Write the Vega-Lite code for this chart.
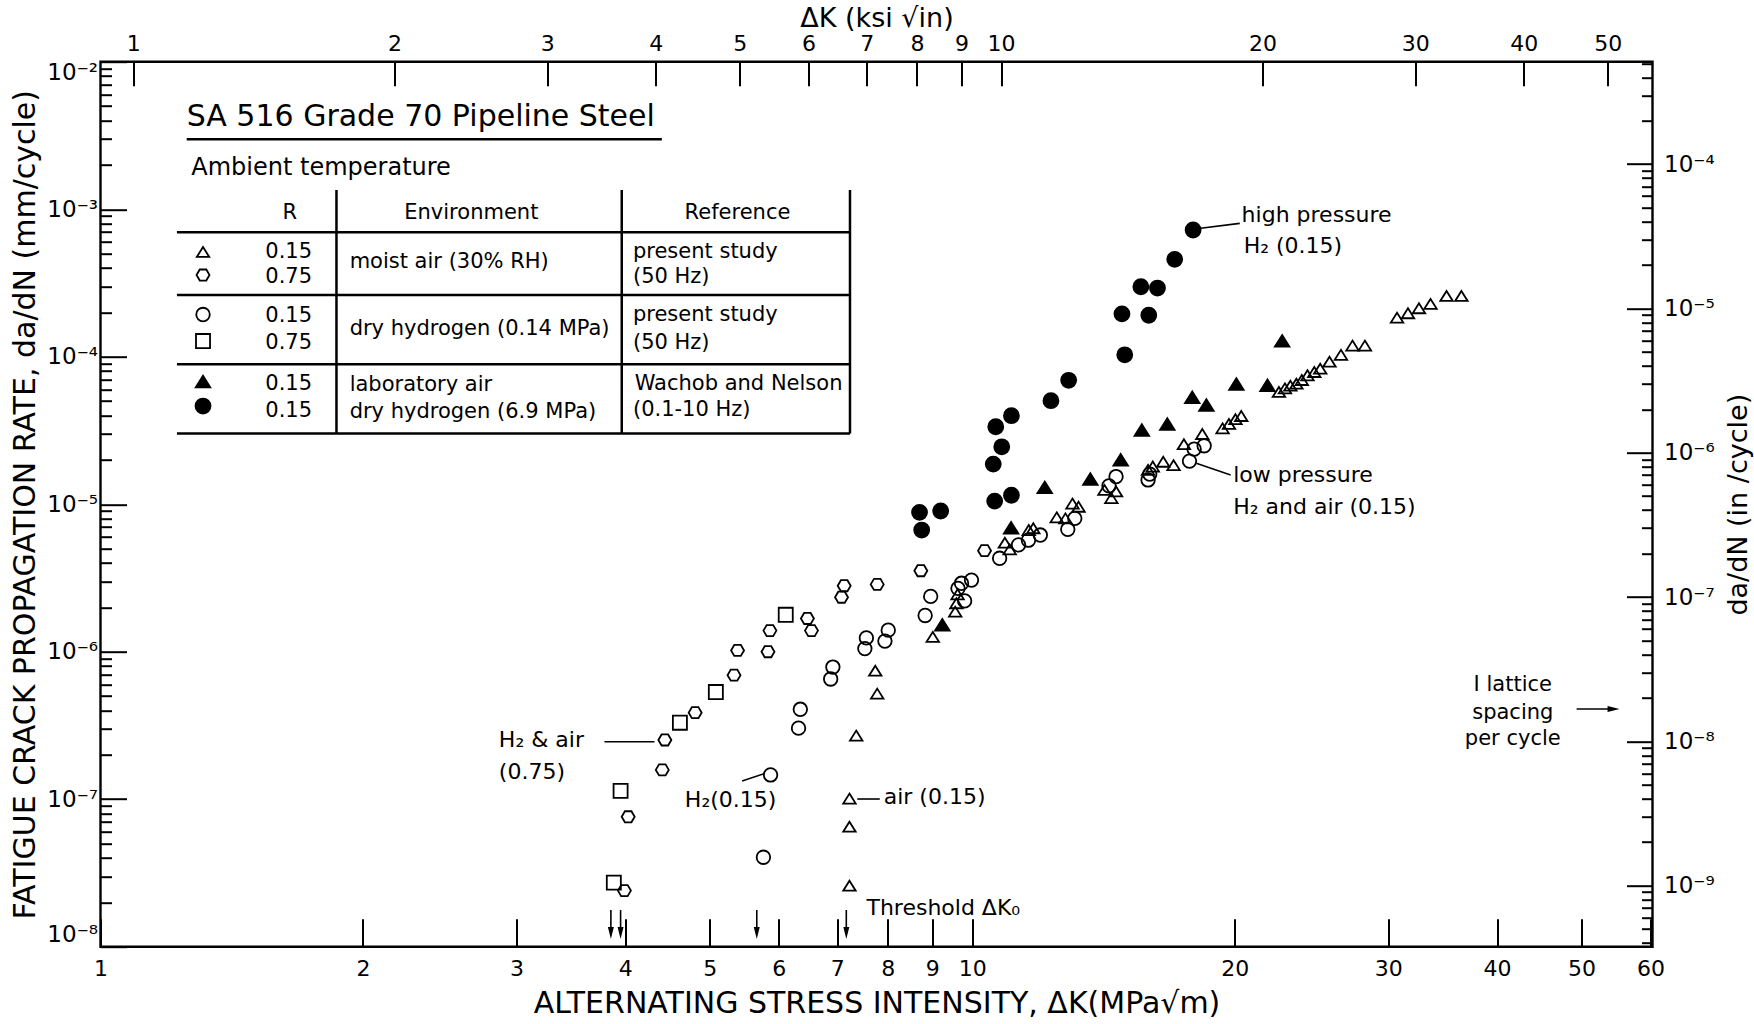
{
  "$schema": "https://vega.github.io/schema/vega-lite/v6.json",
  "width": 1552,
  "height": 885,
  "autosize": {"type": "none"},
  "padding": {"left": 100.5, "top": 61.7, "right": 101.5, "bottom": 77.3},
  "background": "white",
  "config": {
    "font": "DejaVu Sans",
    "view": {"stroke": "black", "strokeWidth": 2.4},
    "axis": {"domain": false, "grid": false, "tickColor": "black", "tickWidth": 2, "labelColor": "black", "labelFont": "DejaVu Sans", "labelFontSize": 21, "labelFlush": false, "labelOverlap": false, "labelBound": false, "titleFont": "DejaVu Sans", "titleFontWeight": "normal", "titleColor": "black"},
    "text": {"font": "DejaVu Sans", "color": "black"}
  },
  "datasets": {
    "points": [
      {"series": "air 0.15", "dk": 7.23, "rate": 2.59e-8},
      {"series": "air 0.15", "dk": 7.23, "rate": 6.51e-8},
      {"series": "air 0.15", "dk": 7.23, "rate": 1.01e-7},
      {"series": "air 0.15", "dk": 7.36, "rate": 2.70e-7},
      {"series": "air 0.15", "dk": 7.74, "rate": 7.43e-7},
      {"series": "air 0.15", "dk": 7.78, "rate": 5.20e-7},
      {"series": "air 0.15", "dk": 9.01, "rate": 1.26e-6},
      {"series": "air 0.15", "dk": 9.56, "rate": 1.87e-6},
      {"series": "air 0.15", "dk": 9.59, "rate": 2.13e-6},
      {"series": "air 0.15", "dk": 9.62, "rate": 2.45e-6},
      {"series": "air 0.15", "dk": 10.90, "rate": 5.48e-6},
      {"series": "air 0.15", "dk": 11.04, "rate": 4.94e-6},
      {"series": "air 0.15", "dk": 11.61, "rate": 6.68e-6},
      {"series": "air 0.15", "dk": 11.75, "rate": 6.87e-6},
      {"series": "air 0.15", "dk": 12.50, "rate": 8.15e-6},
      {"series": "air 0.15", "dk": 12.79, "rate": 8.02e-6},
      {"series": "air 0.15", "dk": 13.03, "rate": 1.01e-5},
      {"series": "air 0.15", "dk": 13.24, "rate": 9.61e-6},
      {"series": "air 0.15", "dk": 14.18, "rate": 1.25e-5},
      {"series": "air 0.15", "dk": 14.44, "rate": 1.10e-5},
      {"series": "air 0.15", "dk": 14.62, "rate": 1.22e-5},
      {"series": "air 0.15", "dk": 15.91, "rate": 1.71e-5},
      {"series": "air 0.15", "dk": 16.11, "rate": 1.80e-5},
      {"series": "air 0.15", "dk": 16.56, "rate": 1.94e-5},
      {"series": "air 0.15", "dk": 17.02, "rate": 1.84e-5},
      {"series": "air 0.15", "dk": 17.49, "rate": 2.55e-5},
      {"series": "air 0.15", "dk": 18.36, "rate": 2.99e-5},
      {"series": "air 0.15", "dk": 19.37, "rate": 3.27e-5},
      {"series": "air 0.15", "dk": 19.70, "rate": 3.50e-5},
      {"series": "air 0.15", "dk": 20.04, "rate": 3.77e-5},
      {"series": "air 0.15", "dk": 20.35, "rate": 3.96e-5},
      {"series": "air 0.15", "dk": 22.48, "rate": 5.77e-5},
      {"series": "air 0.15", "dk": 22.84, "rate": 6.10e-5},
      {"series": "air 0.15", "dk": 23.17, "rate": 6.36e-5},
      {"series": "air 0.15", "dk": 23.54, "rate": 6.56e-5},
      {"series": "air 0.15", "dk": 23.88, "rate": 6.95e-5},
      {"series": "air 0.15", "dk": 24.24, "rate": 7.48e-5},
      {"series": "air 0.15", "dk": 24.68, "rate": 7.87e-5},
      {"series": "air 0.15", "dk": 25.07, "rate": 8.29e-5},
      {"series": "air 0.15", "dk": 25.69, "rate": 9.25e-5},
      {"series": "air 0.15", "dk": 26.48, "rate": 1.03e-4},
      {"series": "air 0.15", "dk": 27.30, "rate": 1.19e-4},
      {"series": "air 0.15", "dk": 28.21, "rate": 1.19e-4},
      {"series": "air 0.15", "dk": 30.71, "rate": 1.84e-4},
      {"series": "air 0.15", "dk": 31.61, "rate": 1.97e-4},
      {"series": "air 0.15", "dk": 32.54, "rate": 2.13e-4},
      {"series": "air 0.15", "dk": 33.55, "rate": 2.28e-4},
      {"series": "air 0.15", "dk": 35.0, "rate": 2.58e-4},
      {"series": "air 0.15", "dk": 36.4, "rate": 2.58e-4},
      {"series": "air 0.75", "dk": 3.99, "rate": 2.40e-8},
      {"series": "air 0.75", "dk": 4.03, "rate": 7.60e-8},
      {"series": "air 0.75", "dk": 4.41, "rate": 1.58e-7},
      {"series": "air 0.75", "dk": 4.44, "rate": 2.52e-7},
      {"series": "air 0.75", "dk": 4.81, "rate": 3.86e-7},
      {"series": "air 0.75", "dk": 5.33, "rate": 6.93e-7},
      {"series": "air 0.75", "dk": 5.38, "rate": 1.02e-6},
      {"series": "air 0.75", "dk": 5.83, "rate": 1.00e-6},
      {"series": "air 0.75", "dk": 5.86, "rate": 1.39e-6},
      {"series": "air 0.75", "dk": 6.47, "rate": 1.68e-6},
      {"series": "air 0.75", "dk": 6.54, "rate": 1.39e-6},
      {"series": "air 0.75", "dk": 7.08, "rate": 2.34e-6},
      {"series": "air 0.75", "dk": 7.13, "rate": 2.80e-6},
      {"series": "air 0.75", "dk": 7.78, "rate": 2.86e-6},
      {"series": "air 0.75", "dk": 8.73, "rate": 3.54e-6},
      {"series": "air 0.75", "dk": 10.33, "rate": 4.84e-6},
      {"series": "H2 0.15", "dk": 5.76, "rate": 4.04e-8},
      {"series": "H2 0.15", "dk": 5.87, "rate": 1.46e-7},
      {"series": "H2 0.15", "dk": 6.32, "rate": 3.03e-7},
      {"series": "H2 0.15", "dk": 6.35, "rate": 4.07e-7},
      {"series": "H2 0.15", "dk": 6.88, "rate": 6.53e-7},
      {"series": "H2 0.15", "dk": 6.92, "rate": 7.87e-7},
      {"series": "H2 0.15", "dk": 7.53, "rate": 1.05e-6},
      {"series": "H2 0.15", "dk": 7.56, "rate": 1.24e-6},
      {"series": "H2 0.15", "dk": 7.94, "rate": 1.18e-6},
      {"series": "H2 0.15", "dk": 8.01, "rate": 1.40e-6},
      {"series": "H2 0.15", "dk": 8.83, "rate": 1.76e-6},
      {"series": "H2 0.15", "dk": 8.96, "rate": 2.37e-6},
      {"series": "H2 0.15", "dk": 9.80, "rate": 2.21e-6},
      {"series": "H2 0.15", "dk": 9.98, "rate": 3.06e-6},
      {"series": "H2 0.15", "dk": 9.72, "rate": 2.91e-6},
      {"series": "H2 0.15", "dk": 9.63, "rate": 2.69e-6},
      {"series": "H2 0.15", "dk": 10.75, "rate": 4.30e-6},
      {"series": "H2 0.15", "dk": 11.3, "rate": 5.3e-6},
      {"series": "H2 0.15", "dk": 11.6, "rate": 5.7e-6},
      {"series": "H2 0.15", "dk": 11.97, "rate": 6.18e-6},
      {"series": "H2 0.15", "dk": 12.87, "rate": 6.76e-6},
      {"series": "H2 0.15", "dk": 13.11, "rate": 8.02e-6},
      {"series": "H2 0.15", "dk": 14.35, "rate": 1.33e-5},
      {"series": "H2 0.15", "dk": 14.62, "rate": 1.54e-5},
      {"series": "H2 0.15", "dk": 15.91, "rate": 1.46e-5},
      {"series": "H2 0.15", "dk": 15.98, "rate": 1.60e-5},
      {"series": "H2 0.15", "dk": 17.75, "rate": 1.96e-5},
      {"series": "H2 0.15", "dk": 17.97, "rate": 2.36e-5},
      {"series": "H2 0.15", "dk": 18.45, "rate": 2.49e-5},
      {"series": "H2 0.75", "dk": 3.88, "rate": 2.72e-8},
      {"series": "H2 0.75", "dk": 3.95, "rate": 1.14e-7},
      {"series": "H2 0.75", "dk": 4.62, "rate": 3.30e-7},
      {"series": "H2 0.75", "dk": 5.08, "rate": 5.33e-7},
      {"series": "H2 0.75", "dk": 6.11, "rate": 1.78e-6},
      {"series": "lab air 0.15", "dk": 9.24, "rate": 1.52e-6},
      {"series": "lab air 0.15", "dk": 11.08, "rate": 6.93e-6},
      {"series": "lab air 0.15", "dk": 12.11, "rate": 1.30e-5},
      {"series": "lab air 0.15", "dk": 13.66, "rate": 1.48e-5},
      {"series": "lab air 0.15", "dk": 14.80, "rate": 2.00e-5},
      {"series": "lab air 0.15", "dk": 15.65, "rate": 3.18e-5},
      {"series": "lab air 0.15", "dk": 16.74, "rate": 3.50e-5},
      {"series": "lab air 0.15", "dk": 17.88, "rate": 5.31e-5},
      {"series": "lab air 0.15", "dk": 18.56, "rate": 4.71e-5},
      {"series": "lab air 0.15", "dk": 20.09, "rate": 6.53e-5},
      {"series": "lab air 0.15", "dk": 21.81, "rate": 6.40e-5},
      {"series": "lab air 0.15", "dk": 22.67, "rate": 1.28e-4},
      {"series": "H2 6.9MPa 0.15", "dk": 8.70, "rate": 8.81e-6},
      {"series": "H2 6.9MPa 0.15", "dk": 9.20, "rate": 8.99e-6},
      {"series": "H2 6.9MPa 0.15", "dk": 8.75, "rate": 6.68e-6},
      {"series": "H2 6.9MPa 0.15", "dk": 10.61, "rate": 1.05e-5},
      {"series": "H2 6.9MPa 0.15", "dk": 11.09, "rate": 1.15e-5},
      {"series": "H2 6.9MPa 0.15", "dk": 10.57, "rate": 1.87e-5},
      {"series": "H2 6.9MPa 0.15", "dk": 10.81, "rate": 2.45e-5},
      {"series": "H2 6.9MPa 0.15", "dk": 10.64, "rate": 3.35e-5},
      {"series": "H2 6.9MPa 0.15", "dk": 11.09, "rate": 3.98e-5},
      {"series": "H2 6.9MPa 0.15", "dk": 12.31, "rate": 5.03e-5},
      {"series": "H2 6.9MPa 0.15", "dk": 12.90, "rate": 6.92e-5},
      {"series": "H2 6.9MPa 0.15", "dk": 14.96, "rate": 1.03e-4},
      {"series": "H2 6.9MPa 0.15", "dk": 14.85, "rate": 1.95e-4},
      {"series": "H2 6.9MPa 0.15", "dk": 15.94, "rate": 1.91e-4},
      {"series": "H2 6.9MPa 0.15", "dk": 15.61, "rate": 2.98e-4},
      {"series": "H2 6.9MPa 0.15", "dk": 16.31, "rate": 2.92e-4},
      {"series": "H2 6.9MPa 0.15", "dk": 17.07, "rate": 4.57e-4},
      {"series": "H2 6.9MPa 0.15", "dk": 17.92, "rate": 7.23e-4}
    ],
    "legendSymbols": [
      {"series": "air 0.15", "dk": 1.311, "rate": 5.13e-4},
      {"series": "air 0.75", "dk": 1.311, "rate": 3.58e-4},
      {"series": "H2 0.15", "dk": 1.311, "rate": 1.932e-4},
      {"series": "H2 0.75", "dk": 1.311, "rate": 1.277e-4},
      {"series": "lab air 0.15", "dk": 1.311, "rate": 6.79e-5},
      {"series": "H2 6.9MPa 0.15", "dk": 1.311, "rate": 4.63e-5}
    ],
    "tableLines": [
      {"dk": 1.2557, "dk2": 4.405, "rate": 2.978e-3, "rate2": 2.978e-3},
      {"dk": 1.2237, "dk2": 7.24, "rate": 6.97e-4, "rate2": 6.97e-4},
      {"dk": 1.2237, "dk2": 7.24, "rate": 2.62e-4, "rate2": 2.62e-4},
      {"dk": 1.2237, "dk2": 7.24, "rate": 8.88e-5, "rate2": 8.88e-5},
      {"dk": 1.2237, "dk2": 7.24, "rate": 3.015e-5, "rate2": 3.015e-5},
      {"dk": 1.865, "dk2": 1.865, "rate": 1.35e-3, "rate2": 3.015e-5},
      {"dk": 3.962, "dk2": 3.962, "rate": 1.35e-3, "rate2": 3.015e-5},
      {"dk": 7.24, "dk2": 7.24, "rate": 1.35e-3, "rate2": 3.015e-5}
    ],
    "leaders": [
      {"dk": 18.28, "dk2": 20.27, "rate": 7.42e-4, "rate2": 8.02e-4},
      {"dk": 18.07, "dk2": 19.79, "rate": 1.894e-5, "rate2": 1.578e-5},
      {"dk": 3.785, "dk2": 4.32, "rate": 2.454e-7, "rate2": 2.454e-7},
      {"dk": 5.445, "dk2": 5.77, "rate": 1.328e-7, "rate2": 1.49e-7},
      {"dk": 7.38, "dk2": 7.833, "rate": 1.003e-7, "rate2": 1.003e-7},
      {"dk": 49.35, "dk2": 54.0, "rate": 4.09e-7, "rate2": 4.09e-7},
      {"dk": 3.85, "dk2": 3.85, "rate": 1.774e-8, "rate2": 1.34e-8},
      {"dk": 3.95, "dk2": 3.95, "rate": 1.774e-8, "rate2": 1.34e-8},
      {"dk": 5.66, "dk2": 5.66, "rate": 1.774e-8, "rate2": 1.34e-8},
      {"dk": 7.17, "dk2": 7.17, "rate": 1.774e-8, "rate2": 1.34e-8}
    ],
    "arrowheads": [
      {"arrow": "threshold", "dk": 3.85, "rate": 1.24e-8},
      {"arrow": "threshold", "dk": 3.95, "rate": 1.24e-8},
      {"arrow": "threshold", "dk": 5.66, "rate": 1.24e-8},
      {"arrow": "threshold", "dk": 7.17, "rate": 1.24e-8},
      {"arrow": "lattice", "dk": 54.41, "rate": 4.09e-7}
    ],
    "labels": [
      {"role": "title", "label": "SA 516 Grade 70 Pipeline Steel", "dk": 1.2557, "rate": 4.238e-3},
      {"role": "subtitle", "label": "Ambient temperature", "dk": 1.271, "rate": 1.894e-3},
      {"role": "center", "label": "R", "dk": 1.649, "rate": 9.42e-4},
      {"role": "center", "label": "Environment", "dk": 2.663, "rate": 9.42e-4},
      {"role": "center", "label": "Reference", "dk": 5.379, "rate": 9.42e-4},
      {"role": "center", "label": "0.15", "dk": 1.6438, "rate": 5.13e-4},
      {"role": "center", "label": "0.75", "dk": 1.6438, "rate": 3.47e-4},
      {"role": "center", "label": "0.15", "dk": 1.6438, "rate": 1.902e-4},
      {"role": "center", "label": "0.75", "dk": 1.6438, "rate": 1.238e-4},
      {"role": "center", "label": "0.15", "dk": 1.6438, "rate": 6.53e-5},
      {"role": "center", "label": "0.15", "dk": 1.6438, "rate": 4.28e-5},
      {"role": "cell", "label": "moist air (30% RH)", "dk": 1.931, "rate": 4.40e-4},
      {"role": "cell", "label": "dry hydrogen (0.14 MPa)", "dk": 1.931, "rate": 1.543e-4},
      {"role": "cell", "label": "laboratory air", "dk": 1.931, "rate": 6.45e-5},
      {"role": "cell", "label": "dry hydrogen (6.9 MPa)", "dk": 1.931, "rate": 4.24e-5},
      {"role": "cell", "label": "present study", "dk": 4.081, "rate": 5.13e-4},
      {"role": "cell", "label": "(50 Hz)", "dk": 4.081, "rate": 3.47e-4},
      {"role": "cell", "label": "present study", "dk": 4.081, "rate": 1.905e-4},
      {"role": "cell", "label": "(50 Hz)", "dk": 4.081, "rate": 1.234e-4},
      {"role": "cell", "label": "Wachob and Nelson", "dk": 4.10, "rate": 6.56e-5},
      {"role": "cell", "label": "(0.1-10 Hz)", "dk": 4.081, "rate": 4.33e-5},
      {"role": "left", "label": "high pressure", "dk": 20.37, "rate": 9.16e-4},
      {"role": "left", "label": "H₂ (0.15)", "dk": 20.48, "rate": 5.62e-4},
      {"role": "left", "label": "low pressure", "dk": 19.92, "rate": 1.568e-5},
      {"role": "left", "label": "H₂ and air (0.15)", "dk": 19.92, "rate": 9.62e-6},
      {"role": "left", "label": "H₂ & air", "dk": 2.864, "rate": 2.52e-7},
      {"role": "left", "label": "(0.75)", "dk": 2.864, "rate": 1.529e-7},
      {"role": "left", "label": "H₂(0.15)", "dk": 4.681, "rate": 9.88e-8},
      {"role": "left", "label": "air (0.15)", "dk": 7.915, "rate": 1.03e-7},
      {"role": "left", "label": "Threshold ΔK₀", "dk": 7.562, "rate": 1.82e-8},
      {"role": "center", "label": "I lattice", "dk": 41.69, "rate": 5.98e-7},
      {"role": "center", "label": "spacing", "dk": 41.69, "rate": 3.87e-7},
      {"role": "center", "label": "per cycle", "dk": 41.69, "rate": 2.54e-7}
    ]
  },
  "layer": [
    {
      "data": {"name": "tableLines"},
      "mark": {"type": "rule", "color": "black", "strokeWidth": 2.5},
      "encoding": {
        "x": {"field": "dk", "type": "quantitative", "scale": {"type": "log", "domain": [1, 60.3], "nice": false}, "axis": null},
        "x2": {"field": "dk2"},
        "y": {"field": "rate", "type": "quantitative", "scale": {"type": "log", "domain": [1e-8, 1e-2], "nice": false}, "axis": null},
        "y2": {"field": "rate2"}
      }
    },
    {
      "data": {"name": "leaders"},
      "mark": {"type": "rule", "color": "black", "strokeWidth": 1.6},
      "encoding": {
        "x": {"field": "dk", "type": "quantitative", "scale": {"type": "log", "domain": [1, 60.3], "nice": false}, "axis": null},
        "x2": {"field": "dk2"},
        "y": {"field": "rate", "type": "quantitative", "scale": {"type": "log", "domain": [1e-8, 1e-2], "nice": false}, "axis": null},
        "y2": {"field": "rate2"}
      }
    },
    {
      "data": {"name": "points"},
      "mark": {"type": "point", "stroke": "black", "strokeWidth": 1.8, "opacity": 1},
      "encoding": {
        "x": {"field": "dk", "type": "quantitative", "scale": {"type": "log", "domain": [1, 60.3], "nice": false},
          "axis": {"orient": "bottom", "values": [1, 2, 3, 4, 5, 6, 7, 8, 9, 10, 20, 30, 40, 50, 60], "format": "~g", "tickSize": -28, "labelPadding": 40, "labelFontSize": 22, "title": "ALTERNATING STRESS INTENSITY, ΔK(MPa√m)", "titleFontSize": 30, "titlePadding": 9}},
        "y": {"field": "rate", "type": "quantitative", "scale": {"type": "log", "domain": [1e-8, 1e-2], "nice": false},
          "axis": {"orient": "left", "values": [1e-8, 1e-7, 1e-6, 1e-5, 1e-4, 1e-3, 1e-2], "tickSize": -26, "labelPadding": 29, "labelFlush": true, "labelFontSize": 23, "labelExpr": "'10⁻' + ['⁰','¹','²','³','⁴','⁵','⁶','⁷','⁸','⁹'][round(-log(datum.value)/LN10)]", "title": "FATIGUE CRACK PROPAGATION RATE, da/dN (mm/cycle)", "titleFontSize": 30, "titlePadding": 6}},
        "shape": {"field": "series", "type": "nominal", "legend": null, "scale": {"domain": ["air 0.15", "air 0.75", "H2 0.15", "H2 0.75", "lab air 0.15", "H2 6.9MPa 0.15"], "range": ["M0,-0.8L1,0.8L-1,0.8Z", "M-1,0L-0.5,-0.85L0.5,-0.85L1,0L0.5,0.85L-0.5,0.85Z", "circle", "square", "M0,-0.8L1,0.8L-1,0.8Z", "circle"]}},
        "fill": {"field": "series", "type": "nominal", "legend": null, "scale": {"domain": ["air 0.15", "air 0.75", "H2 0.15", "H2 0.75", "lab air 0.15", "H2 6.9MPa 0.15"], "range": ["transparent", "transparent", "transparent", "transparent", "black", "black"]}},
        "size": {"field": "series", "type": "nominal", "legend": null, "scale": {"domain": ["air 0.15", "air 0.75", "H2 0.15", "H2 0.75", "lab air 0.15", "H2 6.9MPa 0.15"], "range": [155, 225, 90, 95, 165, 160]}}
      }
    },
    {
      "data": {"name": "legendSymbols"},
      "mark": {"type": "point", "stroke": "black", "strokeWidth": 1.8, "opacity": 1},
      "encoding": {
        "x": {"field": "dk", "type": "quantitative", "scale": {"type": "log", "domain": [1, 60.3], "nice": false}, "axis": null},
        "y": {"field": "rate", "type": "quantitative", "scale": {"type": "log", "domain": [1e-8, 1e-2], "nice": false}, "axis": null},
        "shape": {"field": "series", "type": "nominal", "legend": null},
        "fill": {"field": "series", "type": "nominal", "legend": null},
        "size": {"field": "series", "type": "nominal", "legend": null}
      }
    },
    {
      "data": {"name": "arrowheads"},
      "transform": [{"filter": "datum.arrow == 'threshold'"}],
      "mark": {"type": "point", "shape": "M-0.5,-1L0.5,-1L0,1Z", "filled": true, "color": "black", "size": 144, "opacity": 1},
      "encoding": {
        "x": {"field": "dk", "type": "quantitative", "scale": {"type": "log", "domain": [1, 60.3], "nice": false}, "axis": null},
        "y": {"field": "rate", "type": "quantitative", "scale": {"type": "log", "domain": [1e-8, 1e-2], "nice": false}, "axis": null}
      }
    },
    {
      "data": {"name": "arrowheads"},
      "transform": [{"filter": "datum.arrow == 'lattice'"}],
      "mark": {"type": "point", "shape": "M-1,-0.5L1,0L-1,0.5Z", "filled": true, "color": "black", "size": 144, "opacity": 1},
      "encoding": {
        "x": {"field": "dk", "type": "quantitative", "scale": {"type": "log", "domain": [1, 60.3], "nice": false}, "axis": null},
        "y": {"field": "rate", "type": "quantitative", "scale": {"type": "log", "domain": [1e-8, 1e-2], "nice": false}, "axis": null}
      }
    },
    {
      "data": {"name": "labels"},
      "transform": [{"filter": "datum.role == 'title'"}],
      "mark": {"type": "text", "align": "left", "baseline": "middle", "fontSize": 30, "color": "black"},
      "encoding": {
        "x": {"field": "dk", "type": "quantitative", "scale": {"type": "log", "domain": [1, 60.3], "nice": false}, "axis": null},
        "y": {"field": "rate", "type": "quantitative", "scale": {"type": "log", "domain": [1e-8, 1e-2], "nice": false}, "axis": null},
        "text": {"field": "label"}
      }
    },
    {
      "data": {"name": "labels"},
      "transform": [{"filter": "datum.role == 'subtitle'"}],
      "mark": {"type": "text", "align": "left", "baseline": "middle", "fontSize": 24, "color": "black"},
      "encoding": {
        "x": {"field": "dk", "type": "quantitative", "scale": {"type": "log", "domain": [1, 60.3], "nice": false}, "axis": null},
        "y": {"field": "rate", "type": "quantitative", "scale": {"type": "log", "domain": [1e-8, 1e-2], "nice": false}, "axis": null},
        "text": {"field": "label"}
      }
    },
    {
      "data": {"name": "labels"},
      "transform": [{"filter": "datum.role == 'cell'"}],
      "mark": {"type": "text", "align": "left", "baseline": "middle", "fontSize": 21, "color": "black"},
      "encoding": {
        "x": {"field": "dk", "type": "quantitative", "scale": {"type": "log", "domain": [1, 60.3], "nice": false}, "axis": null},
        "y": {"field": "rate", "type": "quantitative", "scale": {"type": "log", "domain": [1e-8, 1e-2], "nice": false}, "axis": null},
        "text": {"field": "label"}
      }
    },
    {
      "data": {"name": "labels"},
      "transform": [{"filter": "datum.role == 'left'"}],
      "mark": {"type": "text", "align": "left", "baseline": "middle", "fontSize": 22, "color": "black"},
      "encoding": {
        "x": {"field": "dk", "type": "quantitative", "scale": {"type": "log", "domain": [1, 60.3], "nice": false}, "axis": null},
        "y": {"field": "rate", "type": "quantitative", "scale": {"type": "log", "domain": [1e-8, 1e-2], "nice": false}, "axis": null},
        "text": {"field": "label"}
      }
    },
    {
      "data": {"name": "labels"},
      "transform": [{"filter": "datum.role == 'center'"}],
      "mark": {"type": "text", "align": "center", "baseline": "middle", "fontSize": 21, "color": "black"},
      "encoding": {
        "x": {"field": "dk", "type": "quantitative", "scale": {"type": "log", "domain": [1, 60.3], "nice": false}, "axis": null},
        "y": {"field": "rate", "type": "quantitative", "scale": {"type": "log", "domain": [1e-8, 1e-2], "nice": false}, "axis": null},
        "text": {"field": "label"}
      }
    },
    {
      "data": {"values": [{"ksi": 1}, {"ksi": 10}, {"ksi": 50}]},
      "mark": {"type": "point", "opacity": 0},
      "encoding": {
        "x": {"field": "ksi", "type": "quantitative", "scale": {"type": "log", "domain": [0.917, 56.3], "nice": false},
          "axis": {"orient": "top", "values": [1, 2, 3, 4, 5, 6, 7, 8, 9, 10, 20, 30, 40, 50], "format": "~g", "tickSize": -24, "labelPadding": 30, "labelFontSize": 22, "title": "ΔK (ksi √in)", "titleFontSize": 27, "titlePadding": 0}}
      }
    },
    {
      "data": {"values": [{"rin": 1e-9}, {"rin": 1e-4}]},
      "mark": {"type": "point", "opacity": 0},
      "encoding": {
        "y": {"field": "rin", "type": "quantitative", "scale": {"type": "log", "domain": [3.77e-10, 5.13e-4], "nice": false},
          "axis": {"orient": "right", "values": [1e-9, 1e-8, 1e-7, 1e-6, 1e-5, 1e-4], "tickSize": -26, "labelPadding": 37, "labelFontSize": 23, "labelExpr": "'10⁻' + ['⁰','¹','²','³','⁴','⁵','⁶','⁷','⁸','⁹'][round(-log(datum.value)/LN10)]", "title": "da/dN (in /cycle)", "titleFontSize": 27, "titleAngle": 270, "titlePadding": 38}}
      }
    },
    {
      "data": {"values": [{"rin2": 1e-9}, {"rin2": 1e-4}]},
      "mark": {"type": "point", "opacity": 0},
      "encoding": {
        "y": {"field": "rin2", "type": "quantitative", "scale": {"type": "log", "domain": [3.77e-10, 5.13e-4], "nice": false},
          "axis": {"orient": "right", "values": [4e-10, 5e-10, 6e-10, 7e-10, 8e-10, 9e-10, 2e-9, 3e-9, 4e-9, 5e-9, 6e-9, 7e-9, 8e-9, 9e-9, 2e-8, 3e-8, 4e-8, 5e-8, 6e-8, 7e-8, 8e-8, 9e-8, 2e-7, 3e-7, 4e-7, 5e-7, 6e-7, 7e-7, 8e-7, 9e-7, 2e-6, 3e-6, 4e-6, 5e-6, 6e-6, 7e-6, 8e-6, 9e-6, 2e-5, 3e-5, 4e-5, 5e-5, 6e-5, 7e-5, 8e-5, 9e-5, 2e-4, 3e-4, 4e-4, 5e-4], "tickSize": -11, "labels": false, "title": null}}
      }
    },
    {
      "data": {"values": [{"rmm": 1e-8}, {"rmm": 1e-2}]},
      "mark": {"type": "point", "opacity": 0},
      "encoding": {
        "y": {"field": "rmm", "type": "quantitative", "scale": {"type": "log", "domain": [1e-8, 1e-2], "nice": false},
          "axis": {"orient": "left", "values": [2e-8, 3e-8, 4e-8, 5e-8, 6e-8, 7e-8, 8e-8, 9e-8, 2e-7, 3e-7, 4e-7, 5e-7, 6e-7, 7e-7, 8e-7, 9e-7, 2e-6, 3e-6, 4e-6, 5e-6, 6e-6, 7e-6, 8e-6, 9e-6, 2e-5, 3e-5, 4e-5, 5e-5, 6e-5, 7e-5, 8e-5, 9e-5, 2e-4, 3e-4, 4e-4, 5e-4, 6e-4, 7e-4, 8e-4, 9e-4, 2e-3, 3e-3, 4e-3, 5e-3, 6e-3, 7e-3, 8e-3, 9e-3], "tickSize": -11, "labels": false, "title": null}}
      }
    }
  ],
  "resolve": {"scale": {"x": "independent", "y": "independent"}, "axis": {"x": "independent", "y": "independent"}}
}
